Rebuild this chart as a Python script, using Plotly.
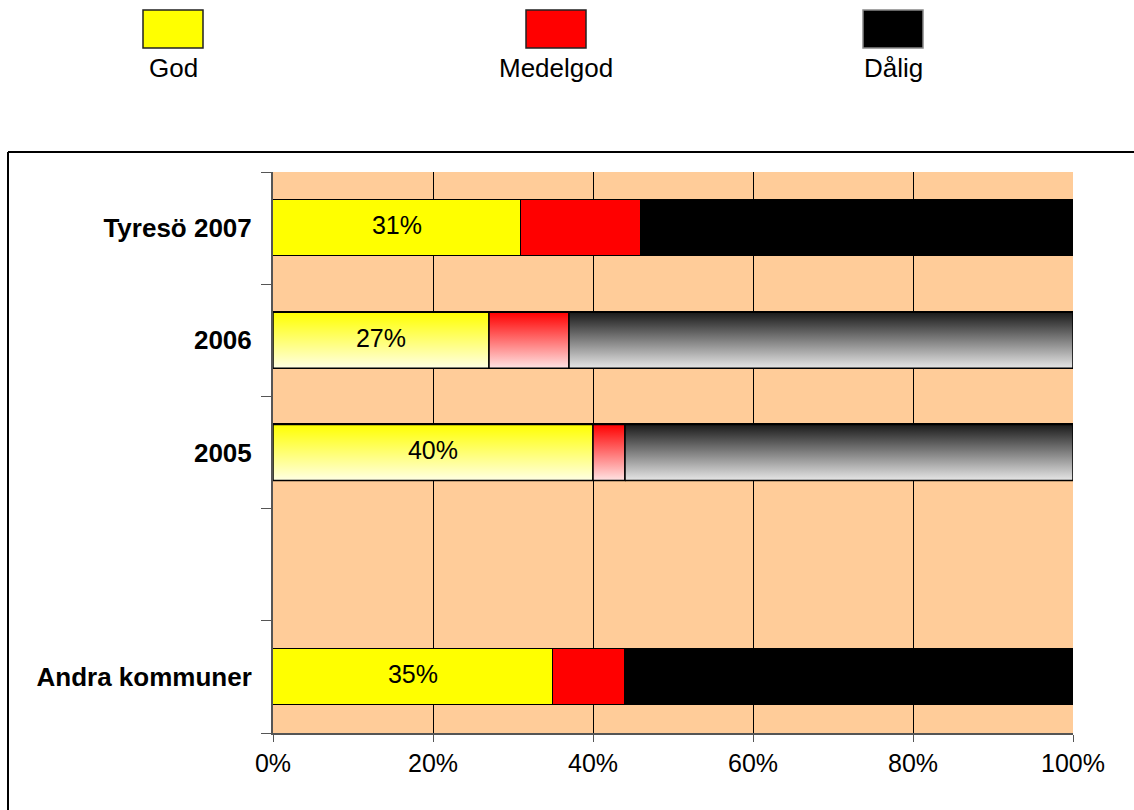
import plotly.graph_objects as go

# ---- data ----
categories = ["Tyresö 2007", "2006", "2005", "", "Andra kommuner"]
god = [31, 27, 40, None, 35]
medelgod = [15, 10, 4, None, 9]
dalig = [54, 63, 56, None, 56]
series_names = ["God", "Medelgod", "Dålig"]
x_ticks = [0, 20, 40, 60, 80, 100]
x_tick_labels = ["0%", "20%", "40%", "60%", "80%", "100%"]
gradient_rows = ["2006", "2005"]

# ---- style ----
colors = ["#FFFF00", "#FF0000", "#000000"]
FONT = "Liberation Sans, Arial, sans-serif"
BAR_W = 0.5
GRAD_EXT = 0.12  # fraction of bar height the gradient extends below the bar
W, H = 1134, 810
L, R, T, B = 273, 1073, 172, 733  # plot area in px

n = len(categories)
ypos = [n - 1 - i for i in range(n)]
series = [god, medelgod, dalig]

fig = go.Figure()

for s_idx, (name, vals) in enumerate(zip(series_names, series)):
    cols = []
    for cat in categories:
        cols.append("rgba(0,0,0,0)" if cat in gradient_rows else colors[s_idx])
    fig.add_trace(go.Bar(
        name=name, orientation="h", y=ypos, x=vals, width=BAR_W,
        marker=dict(color=cols, line=dict(color="black", width=1.5)),
        showlegend=False, hoverinfo="x+name",
    ))

for i, cat in enumerate(categories):
    if cat not in gradient_rows:
        continue
    yc = ypos[i]
    base = 0
    for s_idx, vals in enumerate(series):
        v = vals[i]
        x0, x1 = base, base + v
        y0, y1 = yc - BAR_W / 2, yc + BAR_W / 2
        top = colors[s_idx] if colors[s_idx] != "#000000" else "#1A1A1A"
        fig.add_trace(go.Scatter(
            x=[x0, x1, x1, x0, x0], y=[y0, y0, y1, y1, y0],
            mode="lines", fill="toself",
            line=dict(color="black", width=1.5),
            fillgradient=dict(type="vertical", start=y0 - GRAD_EXT * BAR_W, stop=y1,
                              colorscale=[[0, "#FFFFFF"], [1, top]]),
            showlegend=False, hoverinfo="skip",
        ))
        base = x1

txt_x, txt_y, txt = [], [], []
for i, v in enumerate(god):
    if v is None:
        continue
    txt_x.append(v / 2)
    txt_y.append(ypos[i])
    txt.append(f"{v}%")
fig.add_trace(go.Scatter(x=txt_x, y=txt_y, text=txt, mode="text",
                         textfont=dict(family=FONT, size=25, color="black"),
                         showlegend=False, hoverinfo="skip"))

def px_x(p):
    return (p - L) / (R - L)

def px_y(p):
    return (B - p) / (B - T)

shapes = []
annotations = []
shapes.append(dict(type="line", xref="paper", yref="paper",
                   x0=px_x(8), x1=px_x(1140), y0=px_y(152), y1=px_y(152),
                   line=dict(color="black", width=2)))
shapes.append(dict(type="line", xref="paper", yref="paper",
                   x0=px_x(8), x1=px_x(8), y0=px_y(152), y1=px_y(815),
                   line=dict(color="black", width=2)))

leg_centers = [173, 556, 893]
for name, col, cx in zip(series_names, colors, leg_centers):
    shapes.append(dict(type="rect", xref="paper", yref="paper",
                       x0=px_x(cx - 30), x1=px_x(cx + 30), y0=px_y(48), y1=px_y(10),
                       fillcolor=col, line=dict(color="#222222" if col != "#000000" else "#888888", width=1.5)))
    annotations.append(dict(text=name, xref="paper", yref="paper", x=px_x(cx), y=px_y(68),
                            xanchor="center", yanchor="middle", showarrow=False,
                            font=dict(family=FONT, size=26, color="black")))

fig.update_layout(
    width=W, height=H,
    margin=dict(l=L, r=W - R, t=T, b=H - B),
    paper_bgcolor="white", plot_bgcolor="#FFCC99",
    barmode="stack", bargap=0,
    shapes=shapes, annotations=annotations,
    font=dict(family=FONT, size=24, color="black"),
    xaxis=dict(range=[0, 100], tickvals=x_ticks, ticktext=x_tick_labels,
               showgrid=True, gridcolor="black", gridwidth=1,
               ticks="outside", ticklen=7, tickcolor="#555555",
               showline=True, linecolor="#555555", linewidth=2,
               zeroline=False, fixedrange=True,
               tickfont=dict(family=FONT, size=25, color="black")),
    yaxis=dict(range=[-0.5, n - 0.5], tickvals=ypos, ticktext=categories,
               ticks="", showgrid=False, zeroline=False,
               showline=True, linecolor="#555555", linewidth=2,
               ticklabelstandoff=14,
               minor=dict(tickvals=[k - 0.5 for k in range(n + 1)], ticks="outside",
                          ticklen=10, tickcolor="#555555", showgrid=False),
               tickfont=dict(family=FONT, size=26, color="black", weight="bold"),
               fixedrange=True),
)

fig.write_html("out.html", config={"displayModeBar": False},
               post_script="document.body.style.margin='0';")
